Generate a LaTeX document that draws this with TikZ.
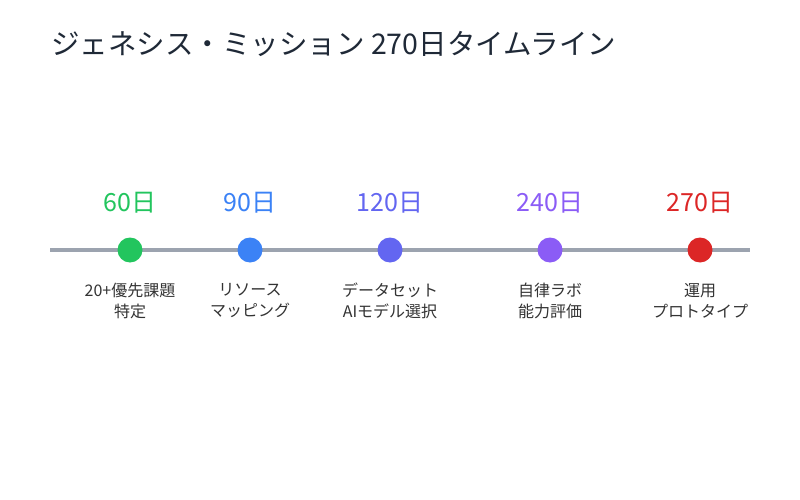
\documentclass[tikz,border=0pt]{standalone}
\usepackage{fontspec}
\setmainfont{Noto Sans CJK JP}
\definecolor{cgreen}{HTML}{22C55E}
\definecolor{cblue}{HTML}{3B82F6}
\definecolor{cindigo}{HTML}{6366F1}
\definecolor{cpurple}{HTML}{8B5CF6}
\definecolor{cred}{HTML}{DC2626}
\definecolor{cline}{HTML}{9CA3AF}
\definecolor{ctitle}{HTML}{1F2937}
\definecolor{clabel}{HTML}{333333}
\begin{document}
\begin{tikzpicture}[x=1pt,y=-1pt,
  dot/.style={circle,inner sep=0pt,minimum size=25pt},
  daylabel/.style={font=\fontsize{25}{28}\selectfont,inner sep=0pt},
  desc/.style={font=\fontsize{16}{21}\selectfont,text=clabel,align=center,inner sep=0pt,anchor=north}]
\useasboundingbox[fill=white] (0,0) rectangle (800,500);
\node[anchor=west,inner sep=0pt,text=ctitle,font=\fontsize{28.5}{32}\selectfont] (title) at (51,44) {ジェネシス・ミッション 270日タイムライン};
\coordinate (ls) at (50,250);
\coordinate (le) at (750,250);
\draw[cline,line width=4pt] (ls) -- (le);
\node[dot,fill=cgreen] (d1) at (130,250) {};
\node[dot,fill=cblue] (d2) at (250,250) {};
\node[dot,fill=cindigo] (d3) at (390,250) {};
\node[dot,fill=cpurple] (d4) at (550,250) {};
\node[dot,fill=cred] (d5) at (700,250) {};
\node[daylabel,text=cgreen] (t1) at (130,203) {60日};
\node[daylabel,text=cblue] (t2) at (250,203) {90日};
\node[daylabel,text=cindigo] (t3) at (390,203) {120日};
\node[daylabel,text=cpurple] (t4) at (550,203) {240日};
\node[daylabel,text=cred] (t5) at (700,203) {270日};
\node[desc] (b1) at (130,283) {20+優先課題\\特定};
\node[desc] (b2) at (250,283) {リソース\\マッピング};
\node[desc] (b3) at (390,283) {データセット\\AIモデル選択};
\node[desc] (b4) at (550,283) {自律ラボ\\能力評価};
\node[desc] (b5) at (700,283) {運用\\プロトタイプ};
\end{tikzpicture}
\end{document}
